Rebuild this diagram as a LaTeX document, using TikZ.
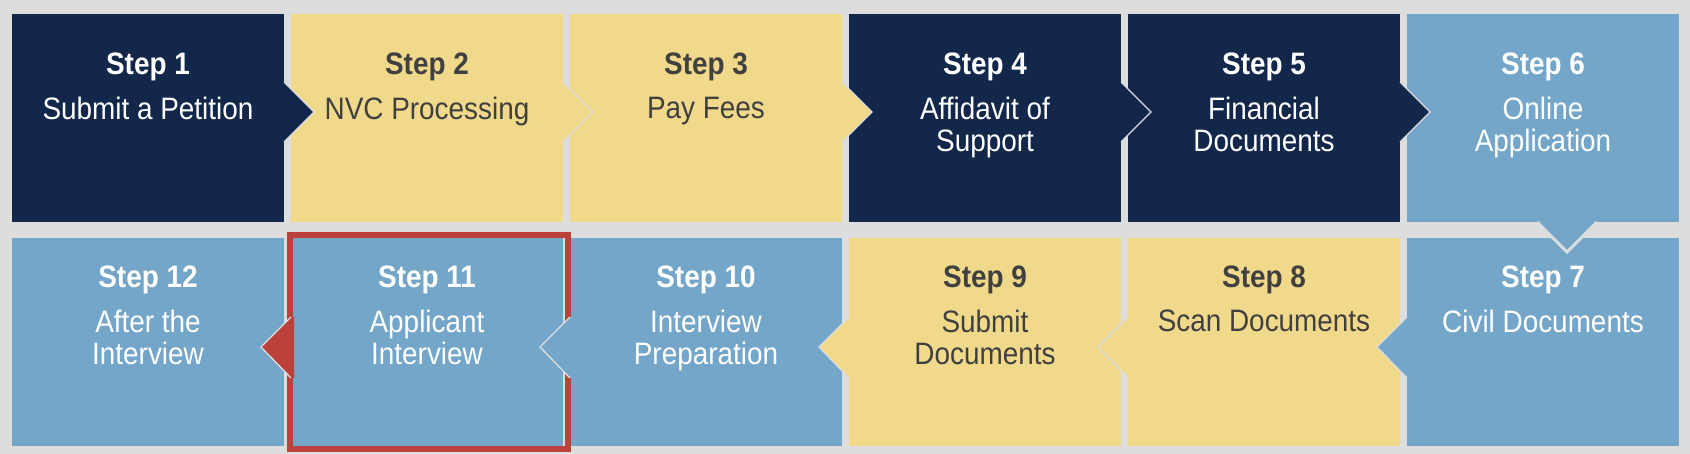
\documentclass[tikz,border=0pt]{standalone}
\usepackage{fontspec}
\setmainfont[FakeStretch=0.9]{Liberation Sans}
\usetikzlibrary{calc}
\definecolor{navy}{HTML}{13274A}
\definecolor{sand}{HTML}{F0D98A}
\definecolor{sky}{HTML}{73A6C8}
\definecolor{bggray}{HTML}{DDDDDD}
\definecolor{hired}{HTML}{BC413A}
\definecolor{ink}{HTML}{404040}
\newcommand{\stepcontent}[2]{\begin{tabular}[t]{@{}c@{}}\textbf{#1}\\[12pt]#2\end{tabular}}
\begin{document}
\begin{tikzpicture}[x=1pt,y=-1pt,
  box/.style={rectangle, inner sep=0pt, outer sep=0pt, minimum width=272pt, minimum height=208pt, anchor=north west},
  lbl/.style={anchor=base, inner sep=0pt, font=\fontsize{31}{32}\selectfont},
  edge/.style={draw=bggray, line width=1.3pt, line join=miter},
  thickedge/.style={draw=bggray, line width=3pt, line join=miter}]
\fill[bggray] (0,0) rectangle (1690,454);
\useasboundingbox (0,0) rectangle (1690,454);
% top row
\node[box, fill=navy] (s1) at (12,14) {};
\node[box, fill=sand] (s2) at (291,14) {};
\node[box, fill=sand] (s3) at (570,14) {};
\node[box, fill=navy] (s4) at (849,14) {};
\node[box, fill=navy] (s5) at (1128,14) {};
\node[box, fill=sky] (s6) at (1407,14) {};
% bottom row
\node[box, fill=sky] (s12) at (12,238) {};
\node[box, fill=sky] (s11) at (291,238) {};
\node[box, fill=sky] (s10) at (570,238) {};
\node[box, fill=sand] (s9) at (849,238) {};
\node[box, fill=sand] (s8) at (1128,238) {};
\node[box, fill=sky] (s7) at (1407,238) {};
% highlight
\draw[hired, line width=6pt] ($(s11.north west)+(-1,-3)$) rectangle ($(s11.south east)+(5,3)$);
% right arrows
\foreach \s/\c in {s1/navy, s2/sand, s3/sand, s4/navy, s5/navy} {
  \fill[\c] ($(\s.east)+(-3,-36)$) -- ($(\s.east)+(0,-36)$) coordinate (\s a) -- ($(\s.east)+(30,-6)$) coordinate (\s t) -- ($(\s.east)+(0,24)$) coordinate (\s b) -- ($(\s.east)+(-3,24)$) -- cycle;
  \draw[edge] (\s a) -- (\s t) -- (\s b);
}
% left arrows
\foreach \s/\c in {s7/sky, s8/sand, s9/sand, s10/sky, s11/hired} {
  \fill[\c] ($(\s.west)+(3,-25)$) -- ($(\s.west)+(0,-25)$) coordinate (\s a) -- ($(\s.west)+(-30,5)$) coordinate (\s t) -- ($(\s.west)+(0,36)$) coordinate (\s b) -- ($(\s.west)+(3,36)$) -- cycle;
  \draw[edge] (\s a) -- (\s t) -- (\s b);
}
% down arrow
\fill[sky] ($(s6.south)+(-6,-3)$) -- ($(s6.south)+(-6,0)$) coordinate (da) -- ($(s6.south)+(24,30)$) coordinate (dt) -- ($(s6.south)+(54,0)$) coordinate (db) -- ($(s6.south)+(54,-3)$) -- cycle;
\draw[thickedge] (da) -- (dt) -- (db);
% texts
\node[lbl, text=white] (t1) at ($(s1.north)+(0,61)$) {\stepcontent{Step 1}{Submit a Petition}};
\node[lbl, text=ink] (t2) at ($(s2.north)+(0,61)$) {\stepcontent{Step 2}{NVC Processing}};
\node[lbl, text=ink] (t3) at ($(s3.north)+(0,61)$) {\stepcontent{Step 3}{Pay Fees}};
\node[lbl, text=white] (t4) at ($(s4.north)+(0,61)$) {\stepcontent{Step 4}{Affidavit of\\Support}};
\node[lbl, text=white] (t5) at ($(s5.north)+(0,61)$) {\stepcontent{Step 5}{Financial\\Documents}};
\node[lbl, text=white] (t6) at ($(s6.north)+(0,61)$) {\stepcontent{Step 6}{Online\\Application}};
\node[lbl, text=white] (t7) at ($(s7.north)+(0,50)$) {\stepcontent{Step 7}{Civil Documents}};
\node[lbl, text=ink] (t8) at ($(s8.north)+(0,50)$) {\stepcontent{Step 8}{Scan Documents}};
\node[lbl, text=ink] (t9) at ($(s9.north)+(0,50)$) {\stepcontent{Step 9}{Submit\\Documents}};
\node[lbl, text=white] (t10) at ($(s10.north)+(0,50)$) {\stepcontent{Step 10}{Interview\\Preparation}};
\node[lbl, text=white] (t11) at ($(s11.north)+(0,50)$) {\stepcontent{Step 11}{Applicant\\Interview}};
\node[lbl, text=white] (t12) at ($(s12.north)+(0,50)$) {\stepcontent{Step 12}{After the\\Interview}};
\end{tikzpicture}
\end{document}
